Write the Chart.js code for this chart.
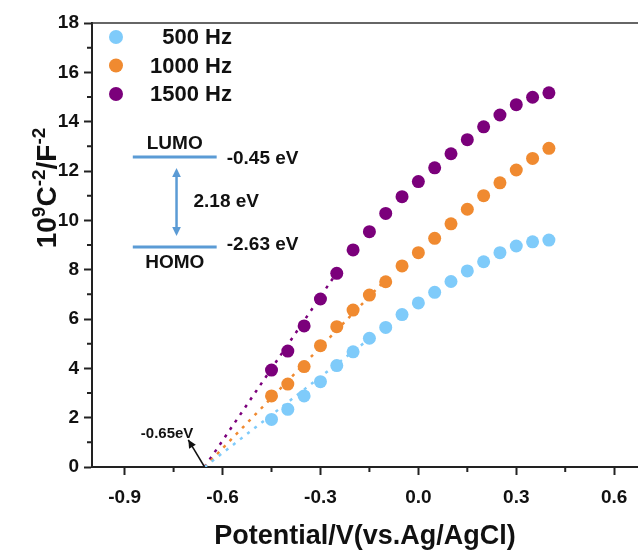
<!DOCTYPE html>
<html>
<head>
<meta charset="utf-8">
<script src="https://cdn.jsdelivr.net/npm/chart.js@4.4.1/dist/chart.umd.min.js"></script>
<style>
  html, body { margin: 0; padding: 0; background: #fff; overflow: hidden; }
  #wrap { width: 638px; height: 554px; }
</style>
</head>
<body>
<div id="wrap"><canvas id="msChart" width="638" height="554"></canvas></div>
<script>
// Mott-Schottky values
const potential = [-0.45, -0.40, -0.35, -0.30, -0.25, -0.20, -0.15, -0.10, -0.05, 0.00, 0.05, 0.10, 0.15, 0.20, 0.25, 0.30, 0.35, 0.40];
const c500  = [1.93, 2.34, 2.88, 3.46, 4.11, 4.67, 5.22, 5.66, 6.18, 6.65, 7.08, 7.52, 7.95, 8.32, 8.69, 8.96, 9.13, 9.20];
const c1000 = [2.88, 3.36, 4.07, 4.92, 5.69, 6.36, 6.97, 7.51, 8.15, 8.69, 9.27, 9.86, 10.45, 11.00, 11.52, 12.04, 12.51, 12.92];
const c1500 = [3.93, 4.70, 5.72, 6.81, 7.85, 8.80, 9.54, 10.28, 10.96, 11.57, 12.13, 12.70, 13.27, 13.79, 14.27, 14.69, 14.99, 15.17];
const seriesLabels = ['500 Hz', '1000 Hz', '1500 Hz'];
const seriesColors = ['#7fcbfa', '#f08a30', '#7b007b'];

// dotted linear fits: common x-intercept and the end of each line
const fitStartX = -0.655;
const fitEndX = [-0.15, -0.10, -0.25];
const fitEndY = [5.20, 7.60, 7.88];

const xTicks = [-0.9, -0.6, -0.3, 0.0, 0.3, 0.6];
const xMinorTicks = [-0.75, -0.45, -0.15, 0.15, 0.45];
const yMinorTicks = [1, 3, 5, 7, 9, 11, 13, 15, 17];

const FONT = 'Arial, "Liberation Sans", sans-serif';
const INK = '#111';
const LEVEL_BLUE = '#5b9bd5';

function arrowHead(ctx, x1, y1, x2, y2, size) {
    const a = Math.atan2(y2 - y1, x2 - x1);
    ctx.beginPath();
    ctx.moveTo(x2, y2);
    ctx.lineTo(x2 - size * Math.cos(a - 0.45), y2 - size * Math.sin(a - 0.45));
    ctx.lineTo(x2 - size * Math.cos(a + 0.45), y2 - size * Math.sin(a + 0.45));
    ctx.closePath();
    ctx.fill();
}

const extras = {
    id: 'extras',
    afterDraw(chart) {
        const ctx = chart.ctx;
        const area = chart.chartArea;
        const xs = chart.scales.x, ys = chart.scales.y;
        ctx.save();

        // top frame line
        ctx.strokeStyle = '#333';
        ctx.lineWidth = 1.5;
        ctx.beginPath();
        ctx.moveTo(area.left, area.top);
        ctx.lineTo(chart.width, area.top);
        ctx.stroke();

        // minor ticks
        ctx.strokeStyle = '#222';
        ctx.lineWidth = 2;
        ctx.beginPath();
        xMinorTicks.forEach(v => {
            const px = xs.getPixelForValue(v);
            ctx.moveTo(px, area.bottom);
            ctx.lineTo(px, area.bottom + 5);
        });
        yMinorTicks.forEach(v => {
            const py = ys.getPixelForValue(v);
            ctx.moveTo(area.left, py);
            ctx.lineTo(area.left - 5, py);
        });
        ctx.stroke();

        // legend in the upper left corner
        ctx.font = 'bold 22px ' + FONT;
        ctx.textBaseline = 'middle';
        ctx.textAlign = 'right';
        seriesLabels.forEach((lab, i) => {
            const cy = area.top + 14 + i * 28.5;
            ctx.fillStyle = seriesColors[i];
            ctx.beginPath();
            ctx.arc(area.left + 24, cy, 7, 0, Math.PI * 2);
            ctx.fill();
            ctx.fillStyle = INK;
            ctx.fillText(lab, area.left + 140, cy + 1);
        });

        // LUMO / HOMO band diagram
        const lx1 = xs.getPixelForValue(-0.875), lx2 = xs.getPixelForValue(-0.618);
        const lumoY = ys.getPixelForValue(12.57), homoY = ys.getPixelForValue(8.92);
        ctx.strokeStyle = LEVEL_BLUE;
        ctx.lineWidth = 3;
        ctx.beginPath();
        ctx.moveTo(lx1, lumoY); ctx.lineTo(lx2, lumoY);
        ctx.moveTo(lx1, homoY); ctx.lineTo(lx2, homoY);
        ctx.stroke();
        const ax = xs.getPixelForValue(-0.741);
        const aTop = ys.getPixelForValue(12.12), aBot = ys.getPixelForValue(9.36);
        ctx.lineWidth = 2.5;
        ctx.beginPath();
        ctx.moveTo(ax, aTop + 6); ctx.lineTo(ax, aBot - 6);
        ctx.stroke();
        ctx.fillStyle = LEVEL_BLUE;
        arrowHead(ctx, ax, aBot, ax, aTop, 10);
        arrowHead(ctx, ax, aTop, ax, aBot, 10);

        ctx.fillStyle = INK;
        ctx.font = 'bold 19px ' + FONT;
        ctx.textAlign = 'center';
        ctx.fillText('LUMO', (lx1 + lx2) / 2, lumoY - 13);
        ctx.fillText('HOMO', (lx1 + lx2) / 2, homoY + 16);
        ctx.textAlign = 'left';
        ctx.fillText('-0.45 eV', lx2 + 10, lumoY + 2);
        ctx.fillText('-2.63 eV', lx2 + 10, homoY - 2);
        ctx.fillText('2.18 eV', ax + 17, (aTop + aBot) / 2);

        // x-intercept callout
        const tipX = xs.getPixelForValue(fitStartX), tipY = ys.getPixelForValue(0);
        const tailX = xs.getPixelForValue(-0.705), tailY = ys.getPixelForValue(1.1);
        ctx.strokeStyle = INK;
        ctx.fillStyle = INK;
        ctx.lineWidth = 1.5;
        ctx.beginPath();
        ctx.moveTo(tipX, tipY); ctx.lineTo(tailX, tailY);
        ctx.stroke();
        arrowHead(ctx, tipX, tipY, tailX, tailY, 9);
        ctx.font = 'bold 15px ' + FONT;
        ctx.textAlign = 'center';
        ctx.fillText('-0.65eV', xs.getPixelForValue(-0.77), ys.getPixelForValue(1.35));

        // y axis title with superscripts
        const parts = [['10', 28, 0], ['9', 19, -11], ['C', 28, 0], ['-2', 19, -11], ['/F', 28, 0], ['-2', 19, -11]];
        let total = 0;
        parts.forEach(p => { ctx.font = 'bold ' + p[1] + 'px ' + FONT; total += ctx.measureText(p[0]).width; });
        ctx.translate(56, 188);
        ctx.rotate(-Math.PI / 2);
        ctx.textAlign = 'left';
        ctx.textBaseline = 'alphabetic';
        let cx = -total / 2;
        parts.forEach(p => {
            ctx.font = 'bold ' + p[1] + 'px ' + FONT;
            ctx.fillText(p[0], cx, p[2]);
            cx += ctx.measureText(p[0]).width;
        });
        ctx.restore();
    }
};

const datasets = [];
[c500, c1000, c1500].forEach((vals, i) => {
    datasets.push({
        type: 'scatter',
        label: seriesLabels[i],
        data: potential.map((x, k) => ({ x: x, y: vals[k] })),
        backgroundColor: seriesColors[i],
        borderWidth: 0,
        pointRadius: 6.5,
        order: 1
    });
    datasets.push({
        type: 'line',
        label: seriesLabels[i] + ' fit',
        data: [{ x: fitStartX, y: 0 }, { x: fitEndX[i], y: fitEndY[i] }],
        borderColor: seriesColors[i],
        borderWidth: 2.5,
        borderDash: [3, 6],
        pointRadius: 0,
        fill: false,
        order: 2
    });
});

new Chart(document.getElementById('msChart'), {
    type: 'scatter',
    data: { datasets: datasets },
    options: {
        responsive: false,
        animation: false,
        layout: { autoPadding: false, padding: { top: 23, right: 0, left: 0, bottom: 0 } },
        plugins: { legend: { display: false }, tooltip: { enabled: false } },
        scales: {
            x: {
                type: 'linear',
                min: -1.0,
                max: 0.673,
                afterBuildTicks: s => { s.ticks = xTicks.map(v => ({ value: v })); },
                afterFit: s => { s.height = 87; s.paddingRight = 0; s.paddingLeft = 0; },
                ticks: {
                    color: INK,
                    font: { family: FONT, size: 19, weight: 'bold' },
                    padding: 11,
                    maxRotation: 0,
                    autoSkip: false,
                    callback: v => Number(v).toFixed(1)
                },
                grid: { drawOnChartArea: false, drawTicks: true, tickLength: 8, tickColor: '#222', tickWidth: 2 },
                border: { display: true, color: '#222', width: 2 },
                title: {
                    display: true,
                    text: 'Potential/V(vs.Ag/AgCl)',
                    color: INK,
                    font: { family: FONT, size: 27, weight: 'bold' },
                    padding: { top: 4, bottom: 1 }
                }
            },
            y: {
                min: 0,
                max: 18,
                afterFit: s => { s.width = 92; },
                ticks: {
                    stepSize: 2,
                    color: INK,
                    font: { family: FONT, size: 19, weight: 'bold' },
                    padding: 5
                },
                grid: { drawOnChartArea: false, drawTicks: true, tickLength: 8, tickColor: '#222', tickWidth: 2 },
                border: { display: true, color: '#222', width: 2 }
            }
        }
    },
    plugins: [extras]
});
</script>
</body>
</html>
